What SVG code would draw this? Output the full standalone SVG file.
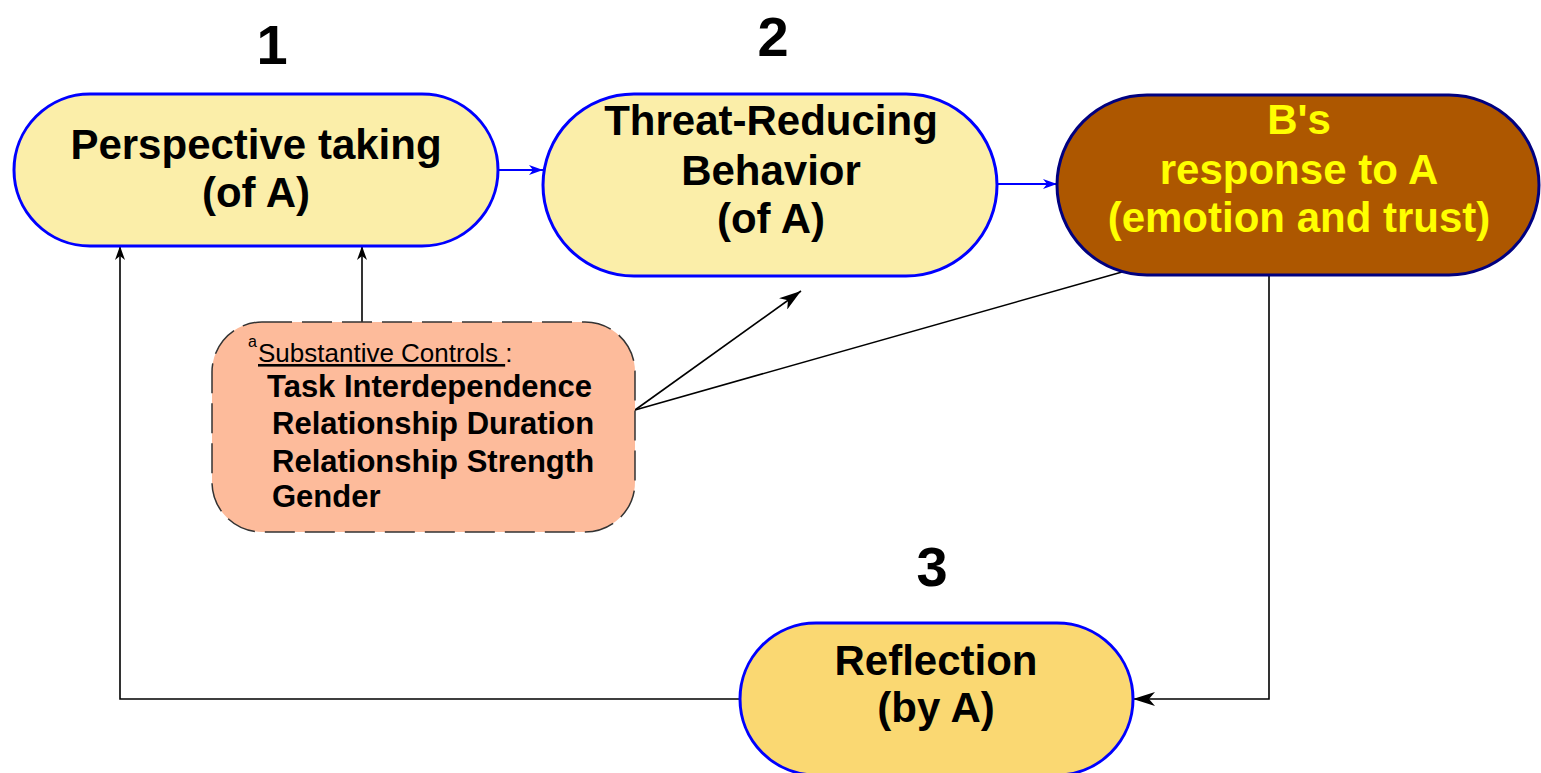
<svg xmlns="http://www.w3.org/2000/svg" width="1541" height="773" viewBox="0 0 1541 773">
<style>
.lbl{font-family:"Liberation Sans",Arial,sans-serif;font-weight:bold;font-size:42px;text-anchor:middle;fill:#000}
.num{font-family:"Liberation Sans",Arial,sans-serif;font-weight:bold;font-size:56px;text-anchor:middle;fill:#000}
.ctl{font-family:"Liberation Sans",Arial,sans-serif;font-weight:bold;font-size:31px;fill:#000}
.sub{font-family:"Liberation Sans",Arial,sans-serif;font-size:26px;fill:#000}
.node{stroke:#0000FF;stroke-width:3}
.blue{stroke:#0000FF;stroke-width:2;fill:none}
.blk{stroke:#000;stroke-width:1.6;fill:none}
</style>
<defs>
<marker id="ab" viewBox="0 0 14 10" refX="14" refY="5" markerWidth="14" markerHeight="10" markerUnits="userSpaceOnUse" orient="auto">
<path d="M0,0 L14,5 L0,10 L4,5 Z" fill="#0000FF"/>
</marker>
<marker id="ak" viewBox="0 0 14 10" refX="14" refY="5" markerWidth="14" markerHeight="10" markerUnits="userSpaceOnUse" orient="auto">
<path d="M0,0 L14,5 L0,10 L4,5 Z" fill="#000"/>
</marker>
<marker id="ak2" viewBox="0 0 22 14" refX="22" refY="7" markerWidth="22" markerHeight="14" markerUnits="userSpaceOnUse" orient="auto">
<path d="M0,0 L22,7 L0,14 L6,7 Z" fill="#000"/>
</marker>
</defs>

<g id="numbers">
<text class="num" x="272" y="64">1</text>
<text class="num" x="773" y="56">2</text>
<text class="num" x="932" y="586">3</text>
</g>

<g id="connectors">
<line class="blue" x1="498" y1="170" x2="543" y2="170" marker-end="url(#ab)"/>
<line class="blue" x1="997" y1="184" x2="1057" y2="184" marker-end="url(#ab)"/>
<polyline class="blk" points="1269,276 1269,699 1133,699" marker-end="url(#ak2)"/>
<polyline class="blk" points="740,699 120,699 120,246" marker-end="url(#ak)"/>
<line class="blk" x1="362" y1="322" x2="362" y2="246" marker-end="url(#ak)"/>
<line class="blk" x1="635" y1="410" x2="801" y2="291" marker-end="url(#ak2)"/>
<line class="blk" x1="635" y1="410" x2="1122" y2="272"/>
</g>

<g id="node-perspective">
<rect class="node" x="14" y="94" width="484" height="152" rx="76" ry="76" fill="#FBEEA9"/>
<text class="lbl" x="256" y="159">Perspective taking</text>
<text class="lbl" x="256" y="207">(of A)</text>
</g>

<g id="node-threat">
<rect class="node" x="543" y="94" width="454" height="182" rx="91" ry="91" fill="#FBEEA9"/>
<text class="lbl" x="771" y="135">Threat-Reducing</text>
<text class="lbl" x="771" y="185">Behavior</text>
<text class="lbl" x="771" y="233">(of A)</text>
</g>

<g id="node-response">
<rect x="1057" y="95" width="482" height="180" rx="90" ry="90" fill="#AD5700" stroke="#000080" stroke-width="3"/>
<text class="lbl" x="1299" y="134" style="fill:#FFFF00">B's</text>
<text class="lbl" x="1299" y="184" style="fill:#FFFF00">response to A</text>
<text class="lbl" x="1299" y="232" style="fill:#FFFF00">(emotion and trust)</text>
</g>

<g id="node-reflection">
<rect class="node" x="740" y="623" width="393" height="152" rx="76" ry="76" fill="#FAD872"/>
<text class="lbl" x="936" y="675">Reflection</text>
<text class="lbl" x="936" y="722">(by A)</text>
</g>

<g id="node-controls">
<rect x="212" y="322" width="423" height="210" rx="50" ry="50" fill="#FDBB9B" stroke="#333" stroke-width="1.5" stroke-dasharray="30 10"/>
<text class="sub" x="248" y="347" style="font-size:16px">a</text>
<text class="sub" x="258" y="362"><tspan text-decoration="underline">Substantive Controls </tspan>:</text>
<text class="ctl" x="267" y="397">Task Interdependence</text>
<text class="ctl" x="272" y="434">Relationship Duration</text>
<text class="ctl" x="272" y="472">Relationship Strength</text>
<text class="ctl" x="272" y="507">Gender</text>
</g>
</svg>
